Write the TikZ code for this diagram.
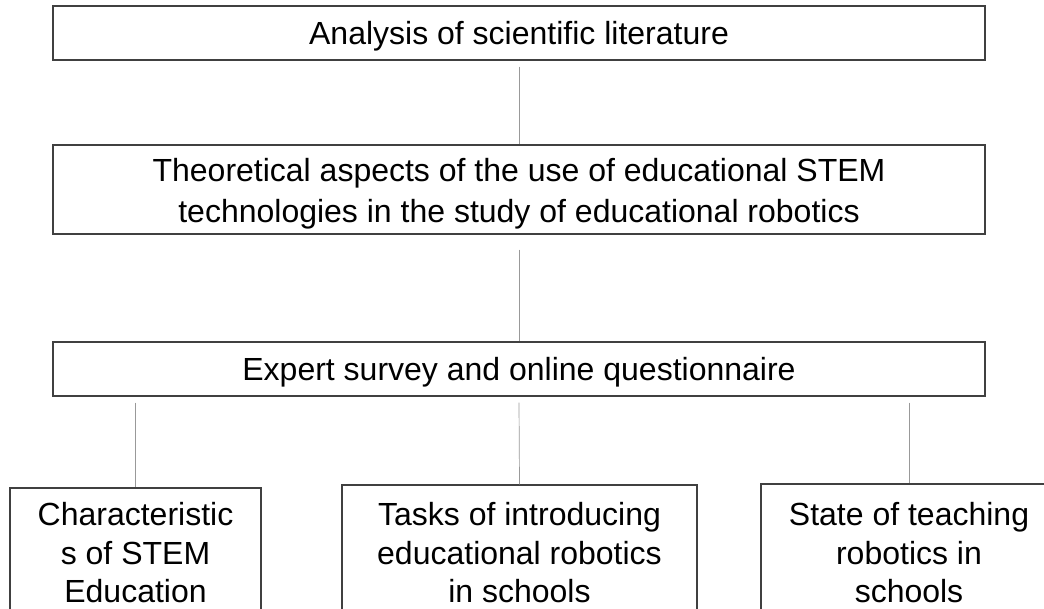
\documentclass[tikz,border=0pt]{standalone}
\usepackage{fontspec}
\setmainfont{Liberation Sans}
\begin{document}
\begin{tikzpicture}[x=1pt,y=-1pt,
  box/.style={draw=black!75, line width=1.2pt, rectangle, inner sep=0pt},
  txt/.style={inner sep=0pt, align=center, font=\fontsize{32}{38.5}\selectfont},
  link/.style={draw=black!40, line width=0.7pt}]
\clip (0,0) rectangle (1044,608);
\fill[white] (0,0) rectangle (1044,608);
\node[box, minimum width=932, minimum height=54] (lit) at (519,33) {};
\node[txt] (litT) at (519,36) {Analysis of scientific literature};
\node[box, minimum width=932, minimum height=89] (theo) at (519,189.5) {};
\node[txt, font=\fontsize{32}{41}\selectfont] (theoT) at (519,194)
  {Theoretical aspects of the use of educational STEM\\technologies in the study of educational robotics};
\node[box, minimum width=932, minimum height=54] (survey) at (519,369) {};
\node[txt] (surveyT) at (519,372) {Expert survey and online questionnaire};
\node[box, minimum width=251, minimum height=134] (char) at (135.5,555) {};
\node[txt] (charT) at (135.5,553) {Characteristic\\s of STEM\\Education};
\node[box, minimum width=355, minimum height=140] (tasks) at (519.5,555) {};
\node[txt] (tasksT) at (519.5,553) {Tasks of introducing\\educational robotics\\in schools};
\node[box, minimum width=296, minimum height=142] (state) at (909,555) {};
\node[txt] (stateT) at (909,553) {State of teaching\\robotics in\\schools};
\draw[link] ([yshift=-6pt]lit.south) -- (theo.north);
\draw[link] ([yshift=-15pt]theo.south) -- (survey.north);
\draw[link] ([yshift=-6pt]survey.south -| char.north) -- (char.north);
\draw[link] ([yshift=-6pt]survey.south) -- (tasks.north);
\draw[link] ([yshift=-6pt]survey.south -| state.north) -- (state.north);
\end{tikzpicture}
\end{document}
